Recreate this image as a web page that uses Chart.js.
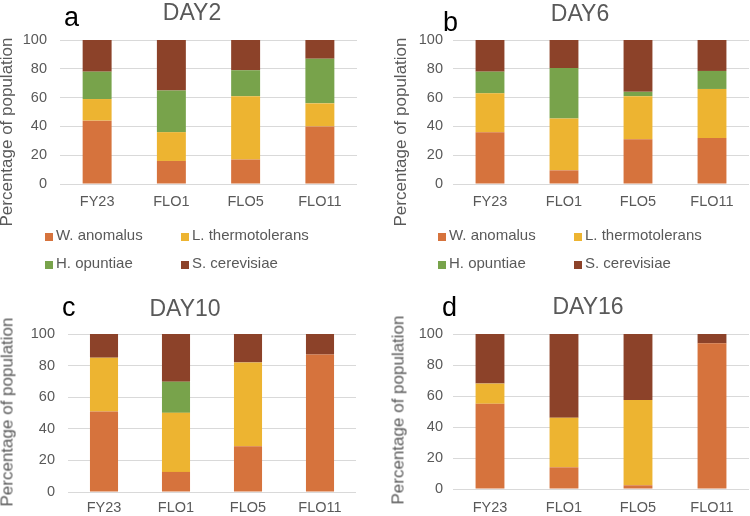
<!DOCTYPE html>
<html>
<head>
<meta charset="utf-8">
<script src="https://cdn.jsdelivr.net/npm/chart.js@4.4.1/dist/chart.umd.min.js"></script>
<style>
  body { margin: 0; background: #fff; }
  #wrap { position: relative; width: 750px; height: 516px; overflow: hidden;
          font-family: "Liberation Sans", Arial, sans-serif; color: #595959; }
  canvas, .txt, .box { position: absolute; }
  .txt { line-height: 1; white-space: nowrap; }
  .box { width: 8px; height: 8px; }
</style>
</head>
<body>
<div id="wrap"></div>
<script>
var categories = ['FY23', 'FLO1', 'FLO5', 'FLO11'];
var species = ['W. anomalus', 'L. thermotolerans', 'H. opuntiae', 'S. cerevisiae'];
var days = ['DAY2', 'DAY6', 'DAY10', 'DAY16'];
var letters = ['a', 'b', 'c', 'd'];
var yTicks = [0, 20, 40, 60, 80, 100];
var yTitle = 'Percentage of population';

// one row per species, in the order of `species`
var day2 = [
  [44, 16, 17, 40],
  [15, 20, 44, 16],
  [19, 29, 18, 31],
  [22, 35, 21, 13]
];
var day6 = [
  [36, 9.5, 31, 32],
  [27, 36, 30, 34],
  [15, 35, 3, 12.5],
  [22, 19.5, 36, 21.5]
];
var day10 = [
  [51, 12.7, 29, 87],
  [34, 37.4, 53, 0],
  [0, 19.7, 0, 0],
  [15, 30.2, 18, 13]
];
var day16 = [
  [55, 14, 2.4, 94],
  [13, 32, 55, 0],
  [0, 0, 0, 0],
  [32, 54, 42.6, 6]
];

var colors = ['#d6733d', '#edb431', '#78a34b', '#8c4229'];
var font = '"Liberation Sans", Arial, sans-serif';
var grey = '#595959';

var panels = [
  {rows: day2, left: 0, top: 0, w: 375, h: 215, padTop: 40, padRight: 18, yWidth: 60, xHeight: 31, yPad: 13, xPad: 9.4,
   title: [192, 1], letter: [64, 4], ytitle: [6, 132], legend: [45, 181, 227, 255]},
  {rows: day6, left: 375, top: 0, w: 375, h: 215, padTop: 40, padRight: 1, yWidth: 78, xHeight: 31, yPad: 10, xPad: 9.1,
   title: [580, 2], letter: [443, 9], ytitle: [400, 132], legend: [438, 574, 227, 255]},
  {rows: day10, left: 0, top: 290, w: 375, h: 226, padTop: 44, padRight: 19, yWidth: 68, xHeight: 24, yPad: 13, xPad: 7.4,
   title: [185, 297], letter: [62, 294], ytitle: [7, 412]},
  {rows: day16, left: 375, top: 290, w: 375, h: 226, padTop: 44, padRight: 1, yWidth: 78, xHeight: 27, yPad: 10, xPad: 10.4,
   title: [588, 295], letter: [442, 294], ytitle: [398, 410]}
];

var wrap = document.getElementById('wrap');

function addText(str, x, y, css) {
  var d = document.createElement('div');
  d.className = 'txt';
  d.textContent = str;
  d.style.left = x + 'px';
  d.style.top = y + 'px';
  for (var k in css) d.style[k] = css[k];
  wrap.appendChild(d);
  return d;
}

function makeChart(p) {
  var c = document.createElement('canvas');
  c.width = p.w; c.height = p.h;
  c.style.left = p.left + 'px'; c.style.top = p.top + 'px';
  wrap.appendChild(c);
  return new Chart(c, {
    type: 'bar',
    data: {
      labels: categories,
      datasets: species.map(function(name, i) {
        return {label: name, data: p.rows[i], backgroundColor: colors[i],
                barPercentage: 0.39, categoryPercentage: 1};
      })
    },
    options: {
      responsive: false,
      animation: false,
      layout: {padding: {top: p.padTop, right: p.padRight, left: 0, bottom: 0}},
      plugins: {legend: {display: false}, tooltip: {enabled: false}},
      scales: {
        x: {
          stacked: true,
          grid: {display: false, drawTicks: false},
          border: {display: false},
          ticks: {color: grey, font: {family: font, size: 14.5}, padding: p.xPad, maxRotation: 0, autoSkip: false},
          afterFit: function(s) { s.height = p.xHeight; }
        },
        y: {
          stacked: true,
          min: yTicks[0],
          max: yTicks[yTicks.length - 1],
          ticks: {stepSize: yTicks[1] - yTicks[0], color: grey, font: {family: font, size: 14.5}, padding: p.yPad},
          grid: {color: '#d9d9d9', drawTicks: false},
          border: {display: false},
          afterFit: function(s) { s.width = p.yWidth; }
        }
      }
    }
  });
}

panels.forEach(function(p, i) {
  makeChart(p);
  var t = addText(days[i], p.title[0], p.title[1], {fontSize: '23px', color: grey});
  t.style.transform = 'translateX(-50%)';
  addText(letters[i], p.letter[0], p.letter[1], {fontSize: '27px', color: '#000'});
  var yt = addText(yTitle, p.ytitle[0], p.ytitle[1], {fontSize: '17px', color: grey});
  yt.style.transform = 'translate(-50%, -50%) rotate(-90deg)';
  if (p.legend) {
    species.forEach(function(name, j) {
      var x = p.legend[j % 2], y = p.legend[2 + Math.floor(j / 2)];
      var b = document.createElement('div');
      b.className = 'box';
      b.style.left = x + 'px';
      b.style.top = (y + 5.5) + 'px';
      b.style.background = colors[j];
      wrap.appendChild(b);
      addText(name, x + 11, y, {fontSize: '15px', color: grey});
    });
  }
});
</script>
</body>
</html>
